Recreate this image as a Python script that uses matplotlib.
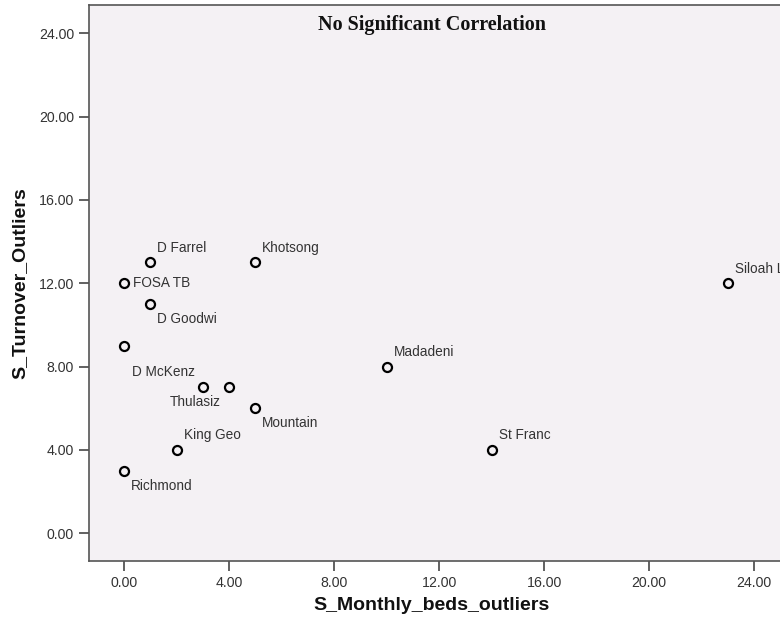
import matplotlib
matplotlib.use('Agg')
import matplotlib.pyplot as plt

# data
names = ['D Farrel', 'Khotsong', 'FOSA TB', 'D Goodwi', '', 'D McKenz', 'Thulasiz',
         'Mountain', 'King Geo', 'Richmond', 'Madadeni', 'St Franc', 'Siloah L']
monthly_beds = [1, 5, 0, 1, 0, 3, 4, 5, 2, 0, 10, 14, 23]
turnover = [13, 13, 12, 11, 9, 7, 7, 6, 4, 3, 8, 4, 12]

x_ticks = [0, 4, 8, 12, 16, 20, 24]
y_ticks = [0, 4, 8, 12, 16, 20, 24]

# where each label sits relative to its point (pixels)
place = {
    'ur': (7, 14.5, 'left'),
    'r': (9, 0, 'left'),
    'lr': (7, -15, 'left'),
    'ul': (-8, 15, 'right'),
    'll': (-8, -15, 'right'),
}
label_pos = {'FOSA TB': 'r', 'D Goodwi': 'lr', 'D McKenz': 'ul', 'Thulasiz': 'll',
             'Mountain': 'lr', 'Richmond': 'lr'}

bg = '#F4F1F4'
edge = '#555555'
txt = '#333333'

fig = plt.figure(figsize=(7.8, 6.27), dpi=100)
ax = fig.add_axes([88.7/780, (627-561)/627, 1 - 88.7/780, 556/627])
ax.set_facecolor(bg)

ax.plot(monthly_beds, turnover, 'o', ms=6.5, mfc=bg, mec='black', mew=1.6, ls='none')

for name, xv, yv in zip(names, monthly_beds, turnover):
    if name == '':
        continue
    dx, dy, ha = place[label_pos.get(name, 'ur')]
    ax.annotate(name, (xv, yv), xytext=(dx, dy), textcoords='offset pixels',
                ha=ha, va='center', fontsize=9.8, color=txt,
                family='Liberation Sans', annotation_clip=False)

ax.set_xlim(-1.35, 24.99)
ax.set_ylim(-1.33, 25.36)
ax.set_xticks(x_ticks)
ax.set_yticks(y_ticks)
ax.set_xticklabels(['%.2f' % v for v in x_ticks])
ax.set_yticklabels(['%.2f' % v for v in y_ticks])
ax.tick_params(direction='out', length=7.5, width=1.3, color=edge,
               labelsize=10.2, labelcolor=txt, pad=3)
for lab in ax.get_xticklabels() + ax.get_yticklabels():
    lab.set_family('Liberation Sans')

for s in ['left', 'bottom', 'top']:
    ax.spines[s].set_color(edge)
    ax.spines[s].set_linewidth(1.2)
ax.spines['right'].set_visible(False)

ax.set_xlabel('S_Monthly_beds_outliers', fontsize=14, fontweight='bold',
              family='Liberation Sans', color='#111111')
ax.set_ylabel('S_Turnover_Outliers', fontsize=14, fontweight='bold',
              family='Liberation Sans', color='#111111')
ax.xaxis.label.set_va('center')
ax.yaxis.label.set_va('center')
ax.xaxis.set_label_coords(0.496, (561-606)/556)
ax.yaxis.set_label_coords((20-88.7)/691.3, (561-283)/556)

ax.text(0.496, (561-25)/556, 'No Significant Correlation', transform=ax.transAxes,
        ha='center', va='center', fontsize=14.5, fontweight='bold',
        family='Liberation Serif', color='#111111')

fig.savefig('out.png', dpi=100)
